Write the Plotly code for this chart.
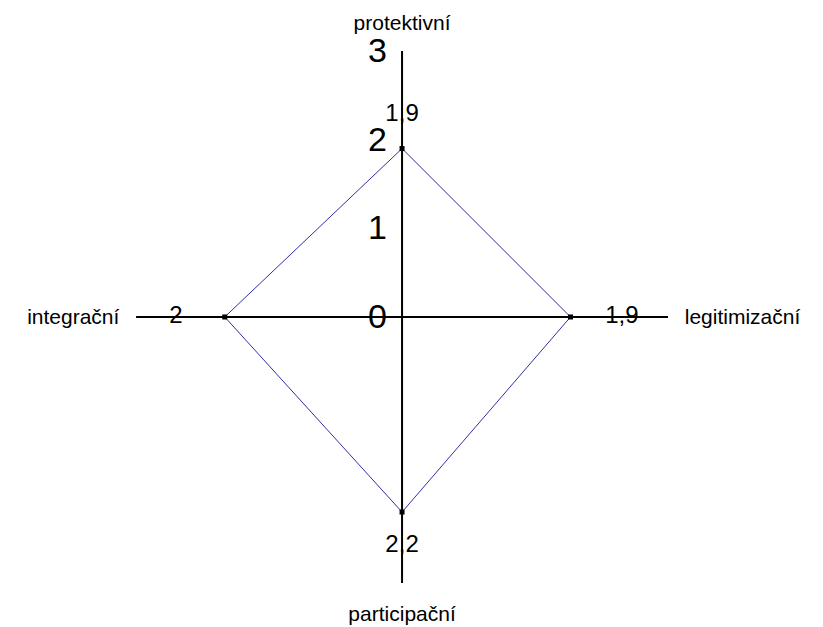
import plotly.graph_objects as go

# Funkce (axes) and values
categories = ['protektivní', 'legitimizační', 'participační', 'integrační']
values = [1.9, 1.9, 2.2, 2.0]
value_labels = ['1,9', '1,9', '2,2', '2']
radial_ticks = [0, 1, 2, 3]

# closed polygon
theta_closed = categories + categories[:1]
r_closed = values + values[:1]

# push the value labels a bit outwards from each point
label_pad = [0.38, 0.58, 0.38, 0.55]
label_r = [v + p for v, p in zip(values, label_pad)]

fig = go.Figure()

fig.add_trace(go.Scatterpolar(
    r=r_closed, theta=theta_closed, mode='lines',
    line=dict(color='#3030a4', width=1), hoverinfo='skip', showlegend=False
))
fig.add_trace(go.Scatterpolar(
    r=values, theta=categories, mode='markers',
    marker=dict(color='black', size=5, symbol='square'), showlegend=False
))
fig.add_trace(go.Scatterpolar(
    r=label_r, theta=categories, mode='text', text=value_labels,
    textfont=dict(family='Liberation Sans, Arial, sans-serif', size=24, color='black'),
    showlegend=False, hoverinfo='skip'
))

fig.update_layout(
    width=823, height=627,
    margin=dict(l=0, r=0, t=0, b=0),
    paper_bgcolor='white',
    font=dict(family='Liberation Sans, Arial, sans-serif', color='black'),
    polar=dict(
        domain=dict(x=[0.1556, 0.8020], y=[0.0830, 0.9314]),
        bgcolor='white',
        angularaxis=dict(
            direction='clockwise', rotation=90,
            showline=False, showgrid=True, gridcolor='black', gridwidth=1.5,
            ticks='outside', ticklen=12, tickcolor='rgba(0,0,0,0)',
            tickfont=dict(size=21),
        ),
        radialaxis=dict(
            range=[0, 3], tickvals=radial_ticks,
            ticktext=[str(t) + '\u00a0' for t in radial_ticks],
            angle=90, tickangle=90,
            side='counterclockwise',
            showline=False, showgrid=False, ticks='',
            tickfont=dict(size=34),
        ),
    ),
)

fig.write_html("out.html")
